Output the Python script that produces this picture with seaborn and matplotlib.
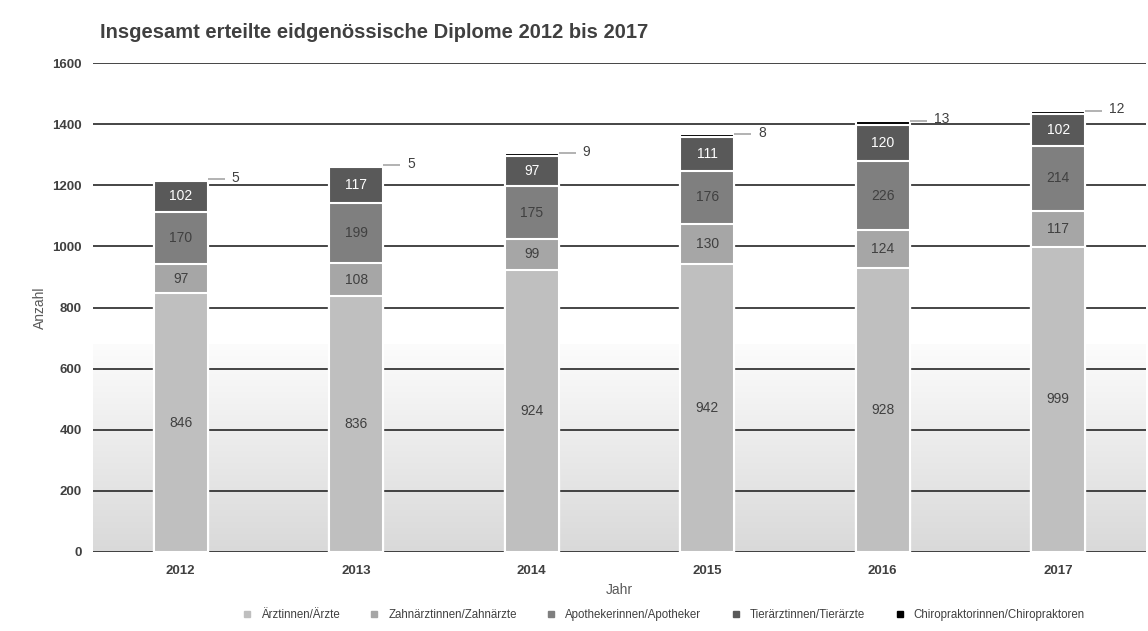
import numpy as np
import pandas as pd
import matplotlib
matplotlib.use("Agg")
import matplotlib.pyplot as plt
from matplotlib.colors import LinearSegmentedColormap
from matplotlib.lines import Line2D
import seaborn as sns

years = ["2012", "2013", "2014", "2015", "2016", "2017"]
series_names = ["Ärztinnen/Ärzte", "Zahnärztinnen/Zahnärzte", "Apothekerinnen/Apotheker",
                "Tierärztinnen/Tierärzte", "Chiropraktorinnen/Chiropraktoren"]
aerzte = [846, 836, 924, 942, 928, 999]
zahnaerzte = [97, 108, 99, 130, 124, 117]
apotheker = [170, 199, 175, 176, 226, 214]
tieraerzte = [102, 117, 97, 111, 120, 102]
chiro = [5, 5, 9, 8, 13, 12]
yticks = [0, 200, 400, 600, 800, 1000, 1200, 1400, 1600]

colors = ["#bfbfbf", "#a6a6a6", "#7f7f7f", "#595959", "#000000"]
label_colors = ["#404040", "#404040", "#404040", "#ffffff"]

sns.set_theme(style="white")
FONT = ["Liberation Sans Narrow", "Liberation Sans", "DejaVu Sans"]
plt.rcParams["font.family"] = FONT

series = [aerzte, zahnaerzte, apotheker, tieraerzte, chiro]
df = pd.DataFrame({"Jahr": years})
for name, vals in zip(series_names, series):
    df[name] = vals
cum = df[series_names].cumsum(axis=1)

fig = plt.figure(figsize=(11.48, 6.31), dpi=100)
ax = fig.add_axes([93 / 1148, 79 / 631, 1053 / 1148, 489 / 631])

# gradient background in lower part
cmap = LinearSegmentedColormap.from_list("g", ["#d9d9d9", "#fcfcfc"])
grad = np.linspace(0, 1, 256).reshape(-1, 1)
ax.imshow(grad, extent=[-0.5, 5.5, 0, 680], origin="lower", aspect="auto",
          cmap=cmap, zorder=0)

# stacked bars via cumulative totals (top layer first)
for i in range(len(series_names) - 1, -1, -1):
    sns.barplot(data=cum.assign(Jahr=years), x="Jahr", y=series_names[i], order=years,
                color=colors[i], width=0.31, edgecolor="white", linewidth=1.5,
                saturation=1, ax=ax, zorder=3)

# segment labels
bottoms = np.zeros(len(years))
for i, vals in enumerate(series[:4]):
    vals = np.array(vals)
    for j, v in enumerate(vals):
        ax.text(j, bottoms[j] + v / 2, str(v), ha="center", va="center",
                fontsize=10, color=label_colors[i], zorder=5, family=FONT)
    bottoms += vals

# small chiropractor labels with leader lines
totals = cum[series_names[-1]].values
for j, v in enumerate(chiro):
    ax.plot([j + 0.155, j + 0.25], [totals[j], totals[j]], color="#a6a6a6",
            lw=1.2, zorder=4, solid_capstyle="butt")
    ax.text(j + 0.29, totals[j] + 5, str(v), ha="left", va="center",
            fontsize=10, color="#404040", zorder=5, family=FONT)

ax.set_xlim(-0.5, 5.5)
ax.set_ylim(0, 1600)
ax.set_yticks(yticks)
ax.set_yticklabels([str(t) for t in yticks], fontweight="bold", fontsize=9.5, color="#404040")
ax.set_xticks(range(len(years)))
ax.set_xticklabels(years, fontweight="bold", fontsize=9.5, color="#404040")
ax.tick_params(axis="both", length=0)
ax.tick_params(axis="x", pad=9)
ax.tick_params(axis="y", pad=8)
for s in ax.spines.values():
    s.set_visible(False)
ax.set_axisbelow(True)
ax.yaxis.grid(True, color="#262626", lw=1.2, zorder=1)
ax.xaxis.grid(False)

ax.set_xlabel("Jahr", fontsize=10, color="#595959", labelpad=5)
ax.set_ylabel("Anzahl", fontsize=10, color="#595959", labelpad=4)

fig.text(100 / 1148, 1 - 33 / 631, "Insgesamt erteilte eidgenössische Diplome 2012 bis 2017",
         fontsize=14.5, fontweight="bold", color="#404040", ha="left", va="center", family=FONT)

handles = [Line2D([0], [0], marker="s", linestyle="", markersize=5,
                  markerfacecolor=c, markeredgecolor=c) for c in colors]
fig.legend(handles, series_names, loc="center", bbox_to_anchor=(0.575, 16 / 631),
           ncol=5, frameon=False, fontsize=8.3, handletextpad=0.2, columnspacing=2.0,
           labelcolor="#404040")

fig.savefig("out.png", dpi=100)
